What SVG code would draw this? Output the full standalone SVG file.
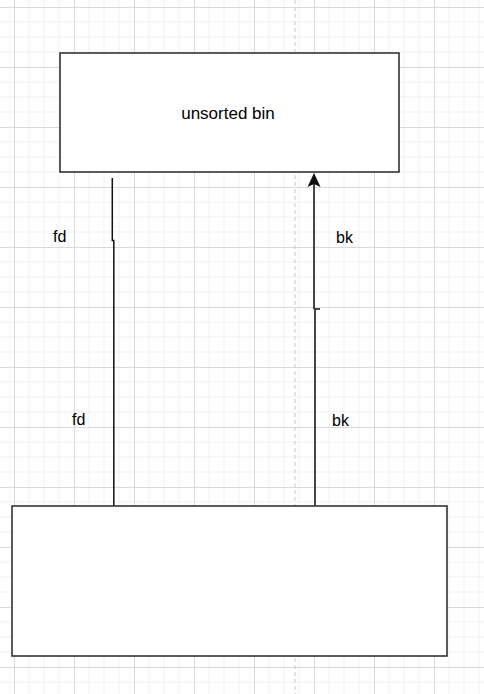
<svg xmlns="http://www.w3.org/2000/svg" width="484" height="694" viewBox="0 0 484 694">
<style>
.node{fill:#ffffff;stroke:#333333;stroke-width:1.6}
.edge{fill:none;stroke:#111111;stroke-width:1.5}
.lbl{font-family:"Liberation Sans",Arial,sans-serif;font-size:16px;fill:#000000}
.title{font-size:17px}
</style>
<defs>
<pattern id="grid" patternUnits="userSpaceOnUse" x="14" y="7" width="60" height="60">
<path d="M15,0V60M30,0V60M45,0V60M0,15H60M0,30H60M0,45H60" stroke="#f1f1f1" stroke-width="1" fill="none"/>
<path d="M0.5,0V60M0,0.5H60" stroke="#dadada" stroke-width="1" fill="none"/>
</pattern>
</defs>
<rect x="0" y="0" width="484" height="694" fill="#ffffff"/>
<rect x="0" y="0" width="484" height="694" fill="url(#grid)"/>
<line x1="295" y1="0" x2="295" y2="694" stroke="#c8c8c8" stroke-width="1" stroke-dasharray="4 3"/>
<g id="connectors">
<path class="edge" d="M112.3,178 V240.5 H113.8 V506"/>
<path class="edge" d="M315,506 V309 M314.5,309 H320 M314,309 V182"/>
<path d="M314,173 L320.5,187 L314,184 L307.5,187 Z" fill="#111111"/>
</g>
<g id="node-unsorted-bin">
<rect class="node" x="60" y="53" width="339" height="119"/>
<text class="lbl title" x="228" y="119" text-anchor="middle">unsorted bin</text>
</g>
<g id="node-chunk">
<rect class="node" x="12" y="506" width="435" height="150"/>
</g>
<g id="labels">
<text class="lbl" x="53" y="242">fd</text>
<text class="lbl" x="336" y="243">bk</text>
<text class="lbl" x="72" y="425">fd</text>
<text class="lbl" x="332" y="426">bk</text>
</g>
</svg>
